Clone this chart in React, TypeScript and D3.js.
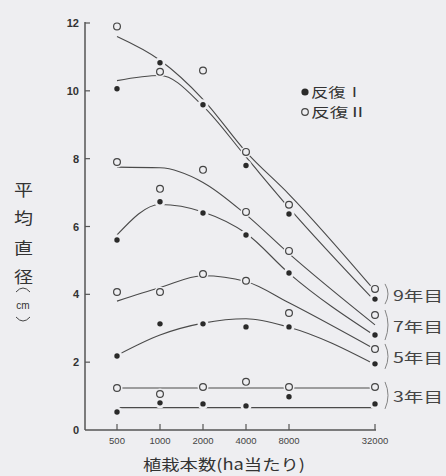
import React from "react";
import * as d3 from "d3";

// Planting density (trees per ha)
const densities = [500, 1000, 2000, 4000, 8000, 32000];
const xTickLabels = ["500", "1000", "2000", "4000", "8000", "32000"];
const yTicks = [0, 2, 4, 6, 8, 10, 12];

const years = ["9年目", "7年目", "5年目", "3年目"];

// 反復 I (filled) measured means
const rep1_y9 = [10.06, 10.83, 9.59, 7.8, 6.37, 3.86];
const rep1_y7 = [5.6, 6.73, 6.4, 5.75, 4.63, 2.8];
const rep1_y5 = [2.18, 3.13, 3.13, 3.04, 3.04, 1.95];
const rep1_y3 = [0.53, 0.8, 0.77, 0.71, 0.98, 0.77];

// 反復 II (open) measured means
const rep2_y9 = [11.9, 10.56, 10.6, 8.2, 6.64, 4.16];
const rep2_y7 = [7.9, 7.11, 7.67, 6.43, 5.28, 3.39];
const rep2_y5 = [4.07, 4.07, 4.6, 4.4, 3.45, 2.39];
const rep2_y3 = [1.24, 1.06, 1.27, 1.42, 1.27, 1.27];

// fitted curves
const fit_y9a = [11.6, 10.9, 9.75, 8.2, 6.95, 4.1];
const fit_y9b = [10.3, 10.45, 9.55, 8.05, 6.55, 3.8];
const fit_y7a = [7.75, 7.73, 7.3, 6.35, 5.2, 3.1];
const fit_y7b = [5.75, 6.65, 6.43, 5.8, 4.62, 2.78];
const fit_y5a = [3.8, 4.2, 4.55, 4.38, 3.75, 2.38];
const fit_y5b = [2.2, 2.8, 3.15, 3.28, 3.03, 1.93];
const fit_y3a = [1.24, 1.24, 1.24, 1.24, 1.24, 1.24];
const fit_y3b = [0.66, 0.66, 0.66, 0.66, 0.66, 0.66];

const rep1 = [rep1_y9, rep1_y7, rep1_y5, rep1_y3];
const rep2 = [rep2_y9, rep2_y7, rep2_y5, rep2_y3];
const fits = [fit_y9a, fit_y9b, fit_y7a, fit_y7b, fit_y5a, fit_y5b, fit_y3a, fit_y3b];

const BG = "#eeeef1";
const INK = "#2a2a2a";
const LINE = "#4a4a4a";
const JP = "'Noto Sans CJK JP', 'Noto Sans', sans-serif";
const NUM = "'Liberation Sans', Arial, sans-serif";

export default function App() {
  const x = d3.scaleLog().base(2).domain([500, 32000]).range([117, 375]);
  const y = d3.scaleLinear().domain([0, 12]).range([430, 23]);
  const axisX0 = 85;
  const axisY0 = 430;

  const line = d3
    .line<number>()
    .x((_, i) => x(densities[i]))
    .y((v) => y(v))
    .curve(d3.curveMonotoneX);

  const allPts: { cx: number; cy: number; filled: boolean }[] = [];
  rep1.forEach((s) => s.forEach((v, i) => allPts.push({ cx: x(densities[i]), cy: y(v), filled: true })));
  rep2.forEach((s) => s.forEach((v, i) => allPts.push({ cx: x(densities[i]), cy: y(v), filled: false })));

  const yLabelChars = ["平", "均", "直", "径"];
  const yLabelYs = [190, 218, 248, 277];

  return (
    <svg
      width={446}
      height={476}
      style={{ position: "absolute", left: 0, top: 0, display: "block" }}
    >
      <rect x={0} y={0} width={446} height={476} fill={BG} />

      {/* fitted curves */}
      {fits.map((f, k) => (
        <path key={"f" + k} d={line(f) || ""} fill="none" stroke={LINE} strokeWidth={1.1} />
      ))}

      {/* halos to break lines around markers */}
      {allPts.map((p, k) => (
        <circle key={"h" + k} cx={p.cx} cy={p.cy} r={5.5} fill={BG} />
      ))}

      {/* markers */}
      {allPts.map((p, k) =>
        p.filled ? (
          <circle key={"m" + k} cx={p.cx} cy={p.cy} r={2.7} fill={INK} />
        ) : (
          <circle key={"m" + k} cx={p.cx} cy={p.cy} r={3.4} fill={BG} stroke="#444" strokeWidth={1.2} />
        )
      )}

      {/* axes */}
      <line x1={axisX0} y1={22} x2={axisX0} y2={axisY0} stroke="#555" strokeWidth={1.5} />
      <line x1={axisX0} y1={axisY0} x2={x(32000) + 1} y2={axisY0} stroke="#555" strokeWidth={1.5} />
      {yTicks.map((t) => (
        <g key={"yt" + t}>
          {t > 0 && <line x1={axisX0} x2={axisX0 + 5} y1={y(t)} y2={y(t)} stroke="#555" strokeWidth={1.2} />}
          <text
            x={79}
            y={y(t) + 4}
            textAnchor="end"
            fontFamily={NUM}
            fontSize={11}
            fontWeight={600}
            fill="#333"
          >
            {t}
          </text>
        </g>
      ))}
      {densities.map((d, i) => (
        <g key={"xt" + d}>
          <line x1={x(d)} x2={x(d)} y1={axisY0} y2={axisY0 - 6} stroke="#555" strokeWidth={1.2} />
          <text x={x(d)} y={444} textAnchor="middle" fontFamily={NUM} fontSize={9.5} fill="#444">
            {xTickLabels[i]}
          </text>
        </g>
      ))}

      {/* x axis title */}
      <text x={143} y={470} fontFamily={JP} fontSize={15} fill="#333" textLength={162} lengthAdjust="spacingAndGlyphs">
        植栽本数(ha当たり)
      </text>

      {/* y axis title, vertical */}
      {yLabelChars.map((c, i) => (
        <text
          key={"yl" + i}
          x={14}
          y={yLabelYs[i] + 6}
          fontFamily={JP}
          fontSize={16}
          fill="#333"
          textLength={19}
          lengthAdjust="spacingAndGlyphs"
        >
          {c}
        </text>
      ))}
      <path d="M16,292 Q23,284 30,292" fill="none" stroke="#444" strokeWidth={1} />
      <text x={23} y={309} textAnchor="middle" fontFamily={NUM} fontSize={10} fill="#333">
        cm
      </text>
      <path d="M16,317 Q23,325 30,317" fill="none" stroke="#444" strokeWidth={1} />

      {/* legend */}
      <circle cx={305} cy={92} r={3.6} fill={INK} />
      <text x={311} y={97} fontFamily={JP} fontSize={13} fill="#333" textLength={52} lengthAdjust="spacingAndGlyphs">
        反復Ⅰ
      </text>
      <circle cx={305} cy={112} r={3.3} fill={BG} stroke="#444" strokeWidth={1.2} />
      <text x={311} y={117} fontFamily={JP} fontSize={13} fill="#333" textLength={56} lengthAdjust="spacingAndGlyphs">
        反復Ⅱ
      </text>

      {/* year labels with brackets */}
      {years.map((lab, k) => {
        const a = y(rep1[k][5]);
        const b = y(rep2[k][5]);
        const top = Math.min(a, b) - 5;
        const bot = Math.max(a, b) + 5;
        const mid = (a + b) / 2;
        return (
          <g key={"yr" + k}>
            <path
              d={`M385,${top} Q391,${(top + bot) / 2} 385,${bot}`}
              fill="none"
              stroke="#777"
              strokeWidth={0.9}
            />
            <text
              x={393}
              y={mid + 7}
              fontFamily={JP}
              fontSize={14}
              fill="#444"
              textLength={50}
              lengthAdjust="spacingAndGlyphs"
            >
              {lab}
            </text>
          </g>
        );
      })}
    </svg>
  );
}
